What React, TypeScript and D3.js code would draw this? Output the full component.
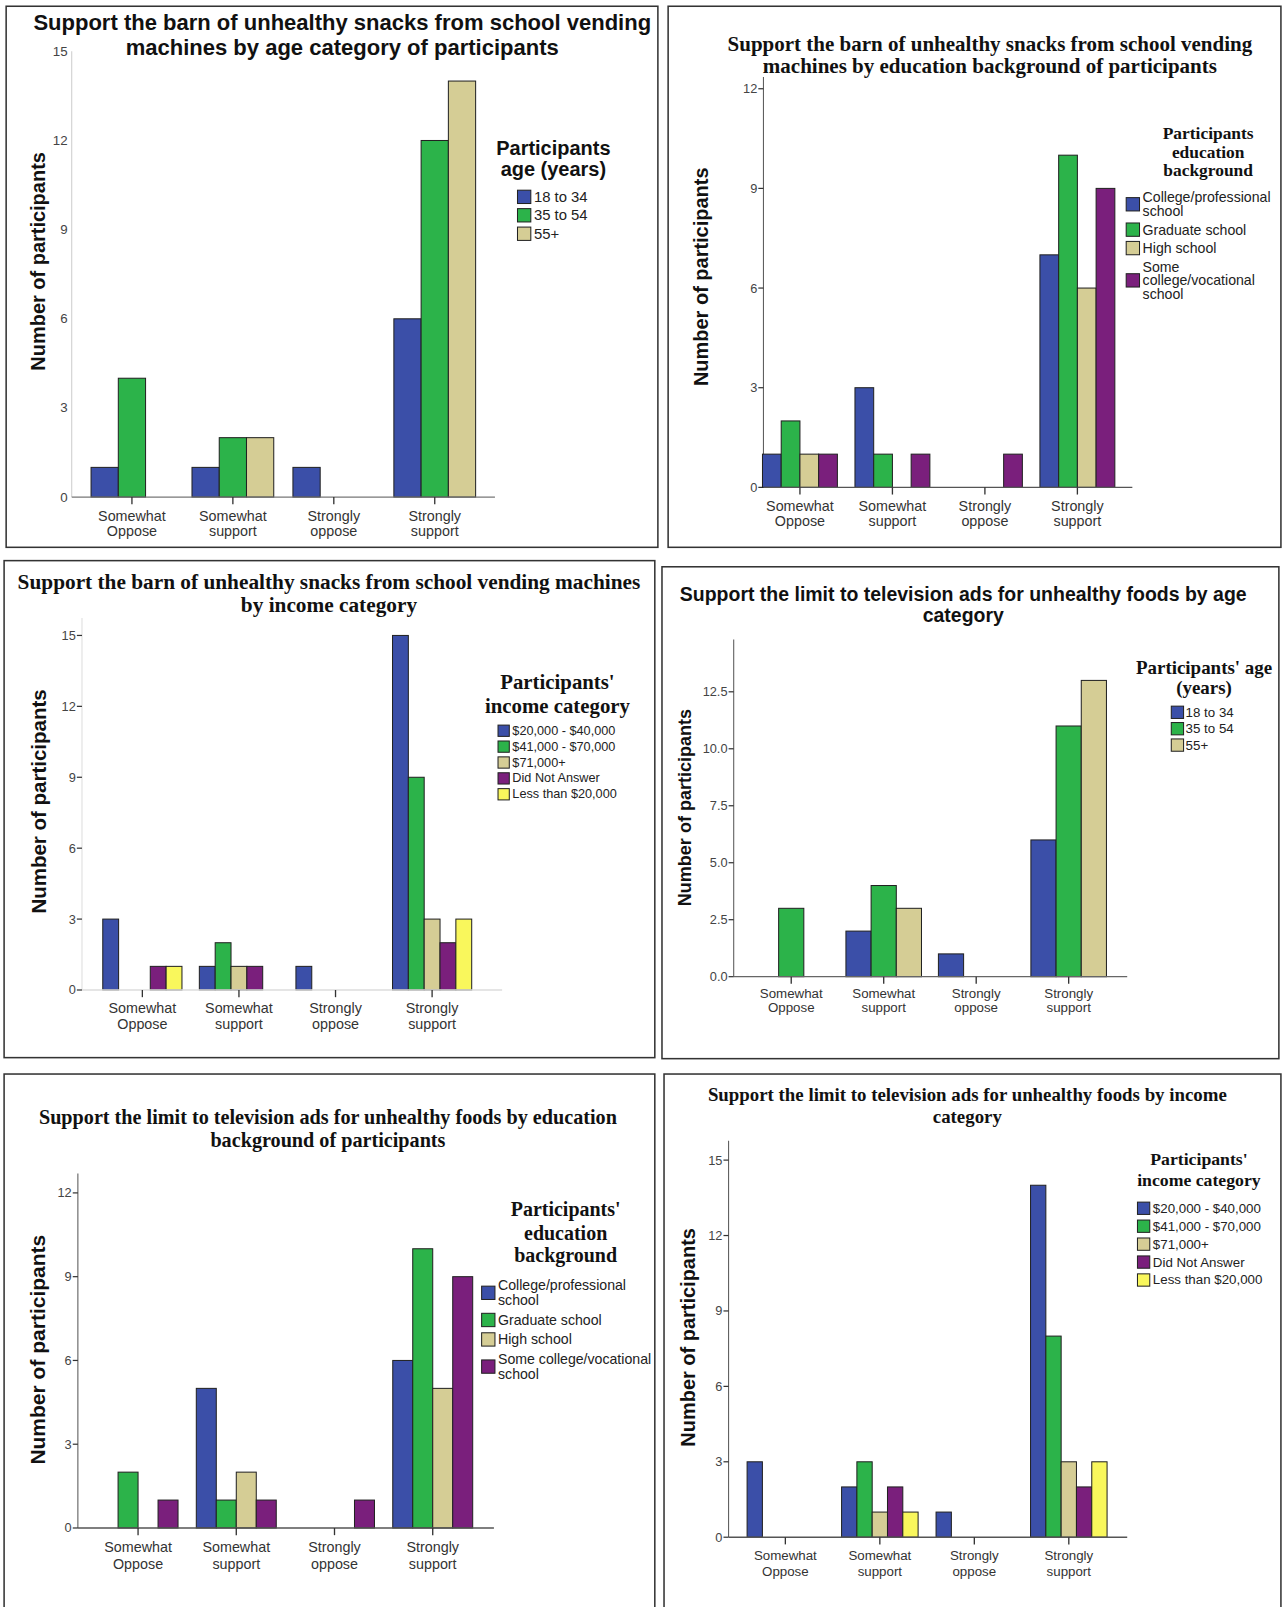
import React from "react";
import * as d3 from "d3";

// answer categories on the x axis
const responses = ["Somewhat Oppose", "Somewhat support", "Strongly oppose", "Strongly support"];

// grouping variables
const ageGroups = ["18 to 34", "35 to 54", "55+"];
const educationGroups = ["College/professional school", "Graduate school", "High school", "Some college/vocational school"];
const incomeGroups = ["$20,000 - $40,000", "$41,000 - $70,000", "$71,000+", "Did Not Answer", "Less than $20,000"];

// counts, one row per group, in the order of `responses`
const vendingByAge = [[1, 1, 1, 6], [4, 2, 0, 12], [0, 2, 0, 14]];
const vendingByEducation = [[1, 3, 0, 7], [2, 1, 0, 10], [1, 0, 0, 6], [1, 1, 1, 9]];
const vendingByIncome = [[3, 1, 1, 15], [0, 2, 0, 9], [0, 1, 0, 3], [1, 1, 0, 2], [1, 0, 0, 3]];
const adsByAge = [[0, 2, 1, 6], [3, 4, 0, 11], [0, 3, 0, 13]];
const adsByEducation = [[0, 5, 0, 6], [2, 1, 0, 10], [0, 2, 0, 5], [1, 1, 1, 9]];
const adsByIncome = [[3, 2, 1, 14], [0, 3, 0, 8], [0, 1, 0, 3], [0, 2, 0, 2], [0, 1, 0, 3]];

const ticks15 = [0, 3, 6, 9, 12, 15];
const ticks12 = [0, 3, 6, 9, 12];
const ticks125 = [0, 2.5, 5, 7.5, 10, 12.5];

const palette = ["#3b4fa8", "#2cb34a", "#d5cd95", "#7a1f7c", "#f9f75c"];

const SANS = "'Liberation Sans', Arial, sans-serif";
const SERIF = "'Liberation Serif', 'Times New Roman', serif";

// wrap a label into lines of at most n characters
function wrap(s: string, n: number) {
  const lines: string[] = [];
  let cur = "";
  s.split(" ").forEach((w) => {
    if (cur && (cur + " " + w).length > n) {
      lines.push(cur);
      cur = w;
    } else cur = cur ? cur + " " + w : w;
  });
  lines.push(cur);
  return lines;
}

function Panel({ L, groups, values }: any) {
  const x = d3
    .scaleBand()
    .domain(responses)
    .range([L.bandStart, L.bandEnd])
    .paddingInner(L.pad)
    .paddingOuter(L.pad / 2);
  const xs = d3.scaleBand().domain(groups).range([0, x.bandwidth()]);
  const y = d3.scaleLinear().domain([0, L.yMax]).range([L.y0, L.yTop]);
  const fmt = L.fmt || ((v: number) => String(v));

  // legend rows
  let cy = L.lg.y0;
  const rows = groups.map((g: string, i: number) => {
    const lines = L.lg.wrap ? wrap(g, L.lg.wrap) : [g];
    const row = { g, i, lines, y: cy };
    cy += (lines.length - 1) * L.lg.lineH + L.lg.gap;
    return row;
  });

  const [fx0, fy0, fx1, fy1] = L.frame;
  return (
    <g>
      <rect x={fx0} y={fy0} width={fx1 - fx0} height={fy1 - fy0} fill="#fff" stroke="#333" strokeWidth={1.5} />
      {L.title.map((t: string, i: number) => (
        <text key={i} x={L.titleX} y={L.titleY[i]} textAnchor="middle" dominantBaseline="central"
          fontFamily={L.titleSerif ? SERIF : SANS} fontWeight="bold" fontSize={L.titleSize} fill="#111">
          {t}
        </text>
      ))}
      {/* y axis */}
      <line x1={L.axisX} x2={L.axisX} y1={L.axisTop} y2={L.y0} stroke={L.yAxisColor} strokeWidth={1} />
      {L.ticks.map((t: number) => (
        <g key={t}>
          {L.tickMarks && <line x1={L.axisX - 5} x2={L.axisX} y1={y(t)} y2={y(t)} stroke="#333" strokeWidth={1.2} />}
          <text x={L.axisX - (L.tickMarks ? 6 : 4)} y={y(t)} textAnchor="end" dominantBaseline="central"
            fontFamily={SANS} fontSize={L.tickSize} fill="#444">
            {fmt(t)}
          </text>
        </g>
      ))}
      <text transform={`translate(${L.yTitleX},${L.yTitleY}) rotate(-90)`} textAnchor="middle" dominantBaseline="central"
        fontFamily={SANS} fontWeight="bold" fontSize={L.yTitleSize} fill="#111">
        Number of participants
      </text>
      {/* bars */}
      {responses.map((r) => (
        <g key={r} transform={`translate(${x(r)},0)`}>
          {groups.map((g: string, gi: number) => {
            const v = values[gi][responses.indexOf(r)];
            if (!v) return null;
            return (
              <rect key={g} x={xs(g)} y={y(v)} width={xs.bandwidth()} height={y(0) - y(v)}
                fill={palette[gi]} stroke="#222" strokeWidth={1} />
            );
          })}
        </g>
      ))}
      {/* x axis */}
      <line x1={L.axisX} x2={L.axisRight} y1={L.y0} y2={L.y0} stroke={L.xAxisColor} strokeWidth={1.3} />
      {responses.map((r) => {
        const cx = (x(r) as number) + x.bandwidth() / 2;
        return (
          <g key={r}>
            <line x1={cx} x2={cx} y1={L.y0} y2={L.y0 + 7} stroke="#333" strokeWidth={1.3} />
            {r.split(" ").map((w, i) => (
              <text key={i} x={cx} y={L.catY[i]} textAnchor="middle" dominantBaseline="central"
                fontFamily={SANS} fontSize={L.catSize} fill="#333">
                {w}
              </text>
            ))}
          </g>
        );
      })}
      {/* legend */}
      {L.lg.title.map((t: string, i: number) => (
        <text key={i} x={L.lg.titleX} y={L.lg.titleY[i]} textAnchor="middle" dominantBaseline="central"
          fontFamily={L.lg.serif ? SERIF : SANS} fontWeight="bold" fontSize={L.lg.titleSize} fill="#111">
          {t}
        </text>
      ))}
      {rows.map((row: any) => {
        const mid = row.y + ((row.lines.length - 1) * L.lg.lineH) / 2;
        return (
          <g key={row.g}>
            <rect x={L.lg.swX} y={mid - L.lg.sw / 2} width={L.lg.sw} height={L.lg.sw}
              fill={palette[row.i]} stroke="#222" strokeWidth={1} />
            {row.lines.map((ln: string, j: number) => (
              <text key={j} x={L.lg.textX} y={row.y + j * L.lg.lineH} dominantBaseline="central"
                fontFamily={SANS} fontSize={L.lg.size} fill="#222">
                {ln}
              </text>
            ))}
          </g>
        );
      })}
    </g>
  );
}

const layout1 = {
  frame: [6, 6, 642, 534],
  title: ["Support the barn of unhealthy snacks from school vending", "machines by age category of participants"],
  titleSerif: false, titleSize: 21.5, titleX: 334, titleY: [22, 46],
  yTitleX: 37, yTitleY: 255, yTitleSize: 19.5,
  axisX: 70, axisTop: 50, axisRight: 483, y0: 485, yTop: 50, yMax: 15,
  ticks: ticks15, tickMarks: false, tickSize: 13, yAxisColor: "#ccc", xAxisColor: "#777",
  bandStart: 79.5, bandEnd: 473.5, pad: 0.19,
  catSize: 14, catY: [503, 518],
  lg: { title: ["Participants", "age (years)"], serif: false, titleSize: 19.5, titleX: 540, titleY: [144, 165],
    swX: 505, sw: 13, textX: 521, size: 14.5, y0: 192, gap: 18, lineH: 14 },
};

const layout2 = {
  frame: [652, 6, 1250, 534],
  title: ["Support the barn of unhealthy snacks from school vending", "machines by education background of participants"],
  titleSerif: true, titleSize: 20.5, titleX: 966, titleY: [43, 64],
  yTitleX: 684, yTitleY: 270, yTitleSize: 19.5,
  axisX: 745, axisTop: 75, axisRight: 1105, y0: 475.5, yTop: 86.5, yMax: 12,
  ticks: ticks12, tickMarks: true, tickSize: 12.5, yAxisColor: "#555", xAxisColor: "#555",
  bandStart: 735.5, bandEnd: 1096.5, pad: 0.19,
  catSize: 14, catY: [494, 508.5],
  lg: { title: ["Participants", "education", "background"], serif: true, titleSize: 17, titleX: 1179, titleY: [129.5, 148, 166],
    swX: 1099, sw: 13, textX: 1115, size: 13.8, y0: 192.5, gap: 18, lineH: 13.5, wrap: 20 },
};

const layout3 = {
  frame: [4, 547, 639, 1032],
  title: ["Support the barn of unhealthy snacks from school vending machines", "by income category"],
  titleSerif: true, titleSize: 20.8, titleX: 321, titleY: [568, 590],
  yTitleX: 38, yTitleY: 782, yTitleSize: 20,
  axisX: 80, axisTop: 603, axisRight: 490, y0: 966, yTop: 620, yMax: 15,
  ticks: ticks15, tickMarks: true, tickSize: 12.5, yAxisColor: "#ddd", xAxisColor: "#ddd",
  bandStart: 91.8, bandEnd: 468.8, pad: 0.18,
  catSize: 14, catY: [984, 999],
  lg: { title: ["Participants'", "income category"], serif: true, titleSize: 20.3, titleX: 544, titleY: [665, 688],
    swX: 486, sw: 11, textX: 500, size: 12.4, y0: 713, gap: 15.5, lineH: 13 },
};

const layout4 = {
  frame: [646, 553, 1248, 1033],
  title: ["Support the limit to television ads for unhealthy foods by age", "category"],
  titleSerif: false, titleSize: 19, titleX: 940, titleY: [580, 600],
  yTitleX: 668, yTitleY: 788, yTitleSize: 17.6,
  axisX: 716, axisTop: 624, axisRight: 1100, y0: 953, yTop: 675, yMax: 12.5,
  fmt: d3.format(".1f"),
  ticks: ticks125, tickMarks: true, tickSize: 12.5, yAxisColor: "#555", xAxisColor: "#666",
  bandStart: 727, bandEnd: 1088, pad: 0.183,
  catSize: 13, catY: [969, 983],
  lg: { title: ["Participants' age", "(years)"], serif: true, titleSize: 18.5, titleX: 1175, titleY: [651, 671],
    swX: 1143, sw: 12, textX: 1157, size: 13, y0: 695, gap: 16, lineH: 13 },
};

const layout5 = {
  frame: [4, 1048, 639, 1580],
  title: ["Support the limit to television ads for unhealthy foods by education", "background of participants"],
  titleSerif: true, titleSize: 19.7, titleX: 320, titleY: [1090, 1112],
  yTitleX: 37, yTitleY: 1317, yTitleSize: 20.5,
  axisX: 76, axisTop: 1145, axisRight: 482, y0: 1491, yTop: 1164, yMax: 12,
  ticks: ticks12, tickMarks: true, tickSize: 12.5, yAxisColor: "#555", xAxisColor: "#555",
  bandStart: 86.8, bandEnd: 470.2, pad: 0.186,
  catSize: 14, catY: [1510, 1526],
  lg: { title: ["Participants'", "education", "background"], serif: true, titleSize: 19.5, titleX: 552, titleY: [1180, 1203, 1225],
    swX: 470, sw: 13, textX: 486, size: 13.8, y0: 1254, gap: 19, lineH: 15, wrap: 23 },
};

const layout6 = {
  frame: [648, 1048, 1250, 1580],
  title: ["Support the limit to television ads for unhealthy foods by income", "category"],
  titleSerif: true, titleSize: 18.4, titleX: 944, titleY: [1068, 1089],
  yTitleX: 671, yTitleY: 1305, yTitleSize: 19.5,
  axisX: 711, axisTop: 1113, axisRight: 1100, y0: 1500, yTop: 1132, yMax: 15,
  ticks: ticks15, tickMarks: true, tickSize: 12.5, yAxisColor: "#555", xAxisColor: "#555",
  bandStart: 720.3, bandEnd: 1089.1, pad: 0.19,
  catSize: 13, catY: [1518, 1533],
  lg: { title: ["Participants'", "income category"], serif: true, titleSize: 17.3, titleX: 1170, titleY: [1131, 1151],
    swX: 1110, sw: 12, textX: 1125, size: 13, y0: 1179, gap: 17.5, lineH: 13 },
};

export default function App() {
  return (
    <svg width={1284} height={1607} viewBox="0 0 1253 1568"
      style={{ position: "absolute", left: 0, top: 0, background: "#fff" }}>
      <rect x={0} y={0} width={1253} height={1568} fill="#fff" />
      <Panel L={layout1} groups={ageGroups} values={vendingByAge} />
      <Panel L={layout2} groups={educationGroups} values={vendingByEducation} />
      <Panel L={layout3} groups={incomeGroups} values={vendingByIncome} />
      <Panel L={layout4} groups={ageGroups} values={adsByAge} />
      <Panel L={layout5} groups={educationGroups} values={adsByEducation} />
      <Panel L={layout6} groups={incomeGroups} values={adsByIncome} />
    </svg>
  );
}
